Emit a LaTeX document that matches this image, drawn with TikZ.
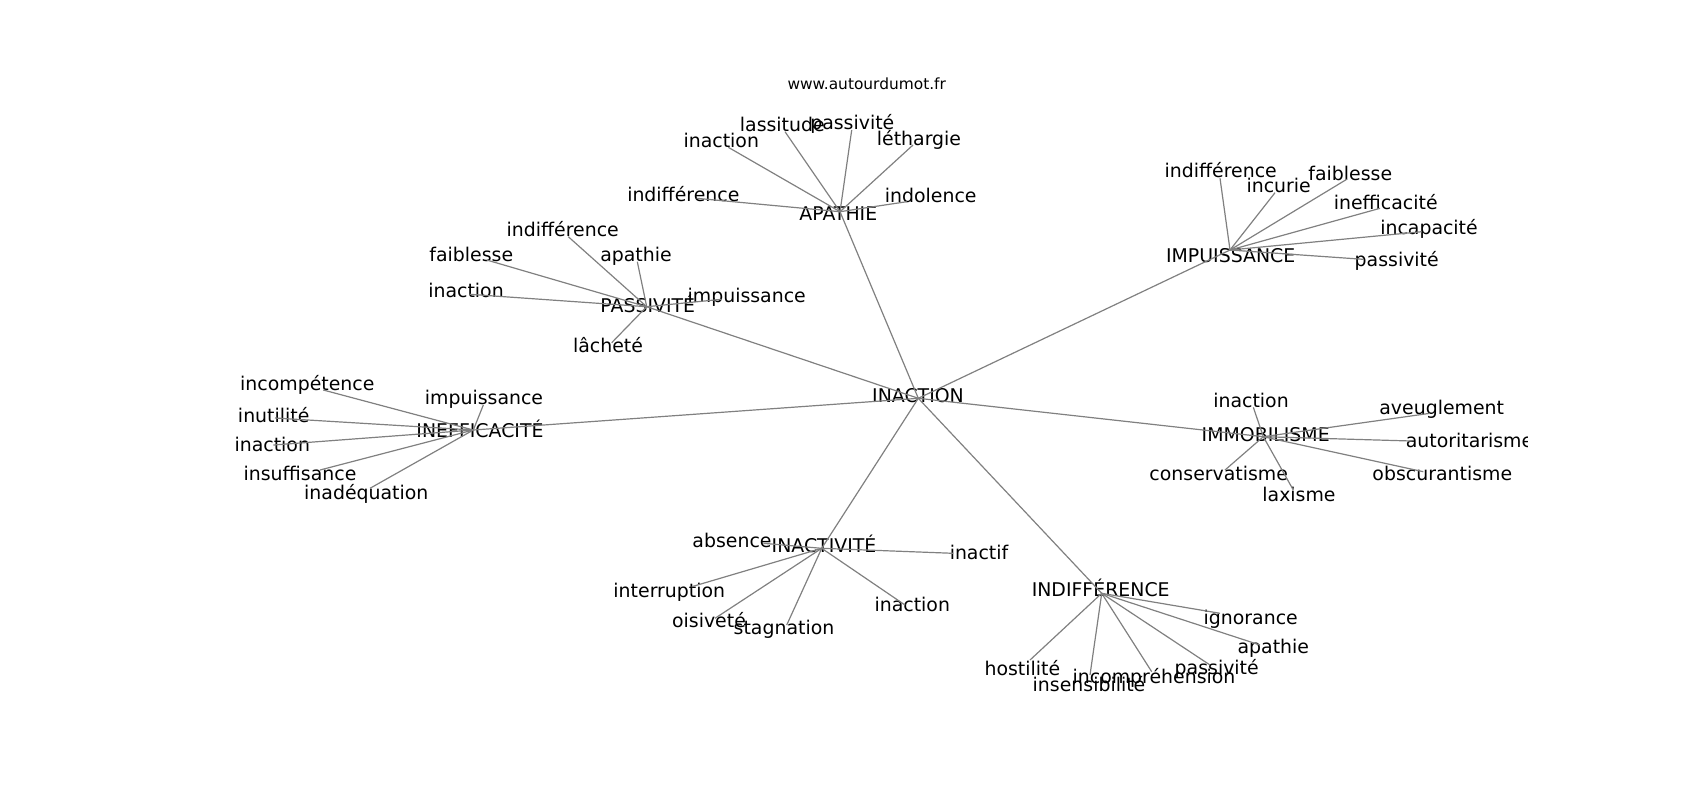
\documentclass[tikz,border=0pt]{standalone}
\usepackage{fontspec}
\setmainfont{DejaVu Sans}
\tikzset{
  lbl/.style={inner sep=0pt, anchor=center, text height=0.73em, text depth=0.13em, font=\fontsize{9.45pt}{11pt}\selectfont},
  ttl/.style={inner sep=0pt, anchor=center, font=\fontsize{7.7pt}{9pt}\selectfont},
  edge/.style={draw=black!50, line width=0.6pt}
}
\newcommand\hubnode[4]{\coordinate (#1) at (#2); \node[lbl] (#1t) at (#3) {#4};}
\newcommand\leafnode[5]{\coordinate (#1) at (#3); \node[lbl] (#1t) at (#2) {#4}; \draw[edge] (#5) -- (#1);}
\begin{document}
\begin{tikzpicture}[x=0.5pt,y=-0.5pt]
\useasboundingbox (0,0) rectangle (1700,800);
\node[ttl] (title) at (866.7,83.3) {www.autourdumot.fr};
\begin{scope}
\clip (212.5,96) rectangle (1527,712);
% hubs
\hubnode{c}{918.3,398.3}{918,396.7}{INACTION}
\hubnode{ap}{840,211.7}{838.3,214}{APATHIE}
\hubnode{pa}{646.7,306.7}{647.7,306}{PASSIVITÉ}
\hubnode{im}{1230,250}{1230.7,256}{IMPUISSANCE}
\hubnode{mo}{1263.3,436.7}{1265.7,435}{IMMOBILISME}
\hubnode{ef}{473.3,430}{480,431.7}{INEFFICACITÉ}
\hubnode{ac}{821.7,548.3}{824,546}{INACTIVITÉ}
\hubnode{di}{1101.7,593.3}{1100.7,590.7}{INDIFFÉRENCE}
\foreach \h in {ap,pa,im,mo,ef,ac,di} {\draw[edge] (c) -- (\h);}
% APATHIE
\leafnode{ap1}{782.3,125}{785,131.7}{lassitude}{ap}
\leafnode{ap2}{852.3,123.3}{851.7,130}{passivité}{ap}
\leafnode{ap3}{721.3,141}{728.3,147.3}{inaction}{ap}
\leafnode{ap4}{919,139.3}{913,145}{léthargie}{ap}
\leafnode{ap5}{683.3,195}{696.7,198.3}{indifférence}{ap}
\leafnode{ap6}{930.7,196}{906.7,201.7}{indolence}{ap}
% PASSIVITE
\leafnode{pa1}{562.7,230.7}{568.3,236.7}{indifférence}{pa}
\leafnode{pa2}{471.3,255}{486.7,260}{faiblesse}{pa}
\leafnode{pa3}{636,255.7}{637.3,261.7}{apathie}{pa}
\leafnode{pa4}{466,291}{470,294.3}{inaction}{pa}
\leafnode{pa5}{746.7,296.7}{721.7,299.3}{impuissance}{pa}
\leafnode{pa6}{608,346}{611.7,342.7}{lâcheté}{pa}
% IMPUISSANCE
\leafnode{im1}{1220.7,171.7}{1220,178.3}{indifférence}{im}
\leafnode{im2}{1278.7,186}{1275,192.7}{incurie}{im}
\leafnode{im3}{1350.3,174}{1346.7,179.3}{faiblesse}{im}
\leafnode{im4}{1385.7,203.3}{1380,208.3}{inefficacité}{im}
\leafnode{im5}{1429,228.3}{1421.7,231.7}{incapacité}{im}
\leafnode{im6}{1396.7,260.7}{1363.3,259.3}{passivité}{im}
% IMMOBILISME
\leafnode{mo1}{1251,401.7}{1253.3,407.3}{inaction}{mo}
\leafnode{mo2}{1441.7,408.3}{1430,413.3}{aveuglement}{mo}
\leafnode{mo3}{1469.5,441}{1411.7,441}{autoritarisme}{mo}
\leafnode{mo4}{1218.7,474}{1225,470}{conservatisme}{mo}
\leafnode{mo5}{1299,495}{1293.3,490}{laxisme}{mo}
\leafnode{mo6}{1442.3,474}{1423.3,471.7}{obscurantisme}{mo}
% INEFFICACITE
\leafnode{ef1}{307.3,384.3}{323.3,390}{incompétence}{ef}
\leafnode{ef2}{484,398.3}{483.3,405}{impuissance}{ef}
\leafnode{ef3}{273.7,416.7}{275,418}{inutilité}{ef}
\leafnode{ef4}{272.3,445}{273.3,445}{inaction}{ef}
\leafnode{ef5}{300,474.3}{320,470}{insuffisance}{ef}
\leafnode{ef6}{366.3,493.3}{370,488.3}{inadéquation}{ef}
% INACTIVITE
\leafnode{ac1}{732,541.7}{763.3,543.3}{absence}{ac}
\leafnode{ac2}{979,553.3}{953.3,553.3}{inactif}{ac}
\leafnode{ac3}{669.3,591.7}{691.7,586.7}{interruption}{ac}
\leafnode{ac4}{709,621.7}{715,618.3}{oisiveté}{ac}
\leafnode{ac5}{784,628.3}{786.7,625}{stagnation}{ac}
\leafnode{ac6}{912.3,605.7}{905,605}{inaction}{ac}
% INDIFFERENCE
\leafnode{di1}{1250.7,618.3}{1220,613.3}{ignorance}{di}
\leafnode{di2}{1273.3,647.3}{1260,645}{apathie}{di}
\leafnode{di3}{1216.7,668.3}{1210,665}{passivité}{di}
\leafnode{di4}{1154,677.3}{1151.7,671.7}{incompréhension}{di}
\leafnode{di5}{1089,685}{1090,675}{insensibilité}{di}
\leafnode{di6}{1022.3,669.3}{1030,660}{hostilité}{di}
\end{scope}
\end{tikzpicture}
\end{document}
